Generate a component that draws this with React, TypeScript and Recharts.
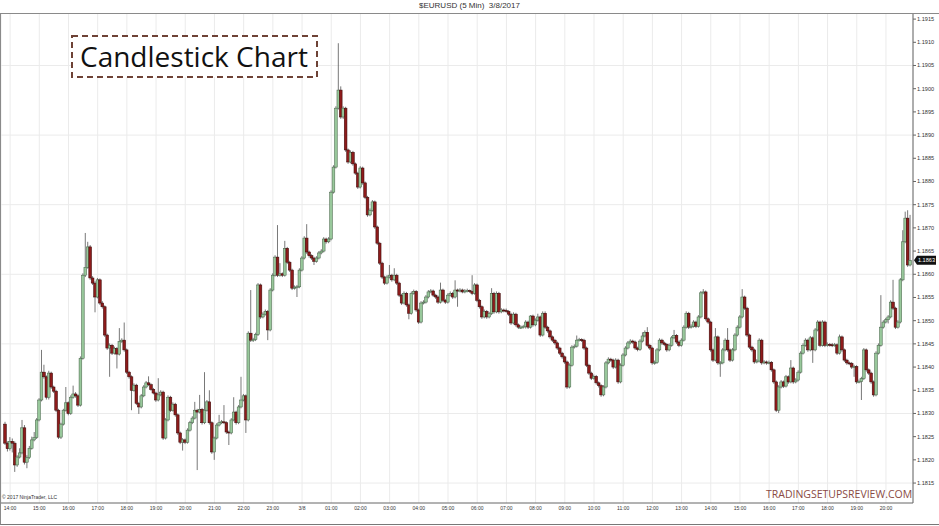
import React from 'react';
import { ComposedChart, Bar, XAxis, YAxis, CartesianGrid, ReferenceLine } from 'recharts';

// prices are kept in pips above 1.1800 (1 pip = 0.0001)
const BASE = 1.18;
const PIP = 0.0001;

const firstOpen = 27.7;

const closePips = [
  23.6, 22.4, 24.0, 23.6, 18.9, 20.6, 21.5, 26.9, 19.5, 20.5, 22.5, 24.3, 24.8, 28.6, 32.9, 38.9,
  37.9, 33.5, 38.7, 35.7, 34.8, 30.7, 24.9, 27.7, 30.7, 32.3, 30.0, 33.5, 34.2, 33.8, 31.8, 41.9,
  59.8, 61.5, 65.9, 59.2, 58.1, 55.1, 58.8, 53.8, 53.0, 46.9, 44.1, 44.7, 43.0, 44.0, 42.8, 45.5,
  45.8, 43.7, 38.9, 37.9, 35.0, 36.1, 32.2, 31.4, 33.8, 35.7, 36.6, 36.2, 35.2, 34.4, 32.9, 34.0,
  34.6, 24.7, 28.6, 33.5, 30.7, 32.0, 29.7, 25.8, 23.8, 24.3, 23.8, 26.4, 28.0, 29.0, 30.7, 30.3,
  30.9, 28.0, 30.7, 32.5, 28.0, 21.7, 24.7, 27.5, 28.0, 28.2, 28.0, 26.0, 25.8, 28.6, 30.3, 28.0,
  31.4, 32.9, 33.8, 28.6, 47.3, 45.8, 45.9, 47.0, 57.7, 50.8, 51.4, 52.0, 48.0, 56.6, 59.8, 63.7,
  59.8, 60.1, 59.8, 65.6, 62.6, 60.9, 57.0, 57.2, 57.3, 60.9, 63.5, 67.8,
  64.8, 64.0, 63.5, 62.8, 63.5, 64.6, 65.0, 67.6, 67.0, 67.6, 77.7, 83.1, 95.8, 99.7, 93.9, 95.8,
  86.8, 84.2, 86.3, 83.8, 81.8, 78.8, 82.9, 79.7, 76.6, 72.8, 73.8, 75.6, 70.2, 66.7, 62.4, 59.4,
  58.1, 59.4, 59.8, 58.8, 59.8, 58.1, 55.5, 53.8, 55.9, 53.4, 51.6, 55.9, 56.3, 52.3, 49.7, 53.8,
  54.0, 55.1, 56.2, 56.4, 55.5, 55.1, 54.0, 56.6, 54.4, 54.0, 55.5, 55.9, 55.1, 56.6, 56.4, 56.6,
  56.2, 56.4, 56.5, 56.3, 55.9, 57.7, 54.4, 53.0, 50.8, 52.0, 50.8, 51.5, 55.9, 51.9, 55.9, 51.9,
  52.3, 52.2, 52.0, 51.4, 49.5, 51.4, 49.1, 48.6, 48.6, 48.7, 49.7, 48.6, 51.0, 49.1, 50.1, 50.8,
  46.9, 51.6, 48.6, 47.8, 46.5, 45.8, 45.2, 44.1, 43.0, 42.2, 41.1, 35.7, 40.4, 44.3, 44.5, 45.8,
  45.9, 45.8, 44.1, 40.4, 38.7, 37.6, 38.0, 36.6, 36.0, 34.0, 35.7, 40.9, 41.7, 41.5, 40.0, 41.5,
  36.8, 40.4, 42.6, 44.1, 45.2, 45.6, 45.4, 44.1, 43.8, 45.6, 46.7, 47.5, 44.7, 44.1, 40.9, 41.0,
  43.7, 45.8, 45.2, 44.9, 43.7, 44.7, 46.3, 46.8, 45.4, 44.7, 45.8, 48.6, 51.6, 48.6, 48.8, 49.7,
  48.8, 50.8, 56.0, 56.2, 50.4, 49.7, 43.7, 41.5, 46.5, 40.9, 40.9, 43.7, 45.8, 43.7, 41.5, 43.7,
  46.9, 48.6, 50.8, 55.1, 52.7, 46.9, 44.3, 43.7, 41.1, 41.3, 45.8, 40.9, 41.1, 40.9, 41.0, 39.4,
  36.8, 30.7, 35.7, 36.8, 35.9, 37.9, 36.8, 39.8, 36.8, 37.2, 38.9, 43.0, 44.7, 45.8, 43.7, 46.3,
  43.7, 48.0, 49.7, 44.7, 49.7, 44.7, 44.9, 44.8, 44.7, 44.8, 43.0, 46.5, 43.7, 41.5, 40.9, 40.8,
  40.0, 40.1, 36.8, 36.9, 37.5, 43.7, 39.4, 38.7, 36.8, 34.0, 43.0, 44.7, 48.6, 49.7, 50.2, 50.8,
  54.0, 52.7, 48.6, 49.7, 58.8, 67.0, 72.1, 62.0, 63.0,
];

const highPips = [
  28.2, 24.0, 24.9, 24.6, 24.0, 21.0, 22.5, 28.6, 27.5, 21.0, 23.0, 25.0, 26.0, 29.0, 33.3, 43.7,
  40.5, 38.2, 39.2, 39.0, 36.0, 35.1, 31.0, 28.0, 31.0, 35.7, 32.6, 33.9, 36.0, 34.6, 34.1, 42.3,
  60.2, 68.9, 67.0, 66.3, 59.6, 58.5, 59.2, 59.1, 54.2, 53.3, 47.2, 45.1, 45.0, 44.4, 44.3, 48.4,
  46.2, 49.6, 44.0, 39.2, 38.2, 36.5, 36.4, 32.5, 34.2, 36.1, 37.0, 38.0, 36.5, 35.5, 34.7, 37.6,
  35.0, 34.9, 29.0, 33.9, 33.8, 32.4, 32.3, 30.0, 26.1, 24.7, 24.6, 26.8, 28.4, 29.4, 32.5, 31.0,
  34.0, 31.2, 38.9, 32.9, 35.0, 28.3, 25.0, 27.9, 29.7, 28.6, 31.8, 28.3, 26.3, 29.0, 33.5, 30.6,
  31.8, 37.9, 34.2, 34.1, 47.7, 56.6, 46.3, 47.4, 58.1, 58.0, 51.8, 52.4, 52.3, 57.0, 60.2, 64.1,
  70.6, 62.4, 60.4, 67.2, 65.9, 62.9, 61.2, 57.6, 57.7, 61.3, 63.9, 68.2,
  70.8, 65.1, 64.3, 63.8, 63.9, 65.0, 65.4, 68.0, 67.9, 68.0, 78.1, 83.5, 96.2, 109.8, 100.5, 96.2,
  96.1, 87.1, 86.7, 86.6, 84.1, 82.1, 83.3, 83.2, 80.0, 76.9, 74.2, 76.0, 75.9, 70.5, 67.0, 62.7,
  59.7, 59.8, 62.0, 60.1, 61.3, 60.1, 58.4, 55.8, 56.3, 56.2, 53.7, 56.3, 56.7, 56.6, 52.6, 54.2,
  54.4, 55.5, 56.6, 56.8, 56.7, 55.8, 55.4, 58.2, 56.9, 54.7, 55.9, 56.3, 56.2, 58.7, 56.9, 57.0,
  56.9, 56.8, 56.9, 56.7, 59.8, 58.1, 58.0, 54.7, 53.3, 52.4, 52.3, 51.9, 57.0, 56.2, 56.3, 56.2,
  52.7, 52.6, 52.6, 52.3, 51.7, 51.8, 51.7, 49.4, 49.0, 49.1, 50.1, 50.0, 51.2, 51.3, 50.5, 51.5,
  51.1, 52.0, 52.0, 48.9, 48.1, 46.8, 46.1, 45.5, 44.4, 43.3, 42.5, 41.4, 40.8, 44.7, 44.9, 46.8,
  46.3, 46.2, 46.1, 44.4, 40.7, 39.0, 38.4, 38.3, 36.9, 36.3, 36.1, 41.3, 42.1, 42.0, 41.8, 41.9,
  41.8, 40.8, 43.0, 44.5, 45.6, 46.0, 45.9, 45.7, 44.4, 46.0, 47.5, 47.9, 48.6, 45.0, 44.4, 41.4,
  44.1, 46.2, 46.1, 45.5, 45.2, 45.1, 46.7, 48.0, 47.1, 45.7, 46.2, 49.0, 52.0, 51.9, 49.2, 50.1,
  50.0, 51.2, 56.4, 56.8, 56.5, 50.7, 50.0, 44.0, 48.4, 46.8, 41.3, 44.1, 46.2, 48.4, 44.0, 44.1,
  47.3, 49.0, 51.2, 56.8, 55.4, 53.0, 47.2, 44.6, 44.0, 41.7, 46.2, 46.1, 41.5, 41.4, 41.4, 41.3,
  39.7, 37.1, 36.1, 37.2, 37.1, 38.3, 38.2, 41.5, 40.1, 37.6, 39.3, 43.4, 45.1, 46.2, 46.1, 46.7,
  46.6, 48.4, 50.1, 50.0, 50.1, 50.0, 45.3, 45.2, 45.2, 45.2, 45.1, 47.0, 46.8, 44.0, 41.8, 41.2,
  41.1, 40.5, 40.4, 37.3, 37.9, 44.1, 44.0, 39.7, 39.0, 37.1, 43.4, 45.1, 55.5, 50.1, 50.6, 51.2,
  54.4, 58.8, 53.0, 50.1, 59.2, 69.5, 73.5, 73.8, 72.8,
];

const lowPips = [
  23.2, 21.8, 22.0, 21.6, 17.4, 18.5, 20.3, 21.2, 19.0, 18.2, 20.2, 22.2, 24.0, 24.5, 28.3, 32.6,
  37.5, 33.0, 33.0, 35.3, 34.4, 30.3, 24.5, 24.5, 27.4, 30.4, 29.6, 29.7, 33.2, 33.4, 31.4, 31.5,
  41.6, 59.4, 61.2, 58.8, 57.7, 51.8, 54.8, 53.4, 52.6, 46.5, 43.7, 37.9, 42.6, 42.7, 39.7, 42.5,
  45.2, 43.3, 38.5, 37.5, 30.7, 34.7, 31.8, 29.9, 31.1, 33.5, 35.4, 35.9, 34.9, 34.1, 32.5, 32.6,
  33.7, 24.3, 24.4, 28.3, 30.3, 30.4, 29.3, 25.4, 23.4, 22.0, 23.4, 23.5, 26.1, 27.7, 28.7, 17.8,
  30.0, 27.6, 27.7, 30.4, 27.6, 21.3, 20.0, 24.4, 27.2, 27.7, 27.7, 25.6, 23.2, 25.5, 28.3, 27.6,
  27.7, 31.1, 32.6, 25.8, 28.3, 45.4, 45.4, 45.6, 46.7, 50.4, 50.5, 51.1, 45.8, 47.7, 56.3, 59.5,
  59.4, 59.5, 59.4, 59.5, 62.2, 60.5, 56.6, 56.7, 55.1, 57.0, 60.6, 63.2,
  64.4, 63.6, 63.1, 62.0, 62.5, 63.2, 64.3, 64.7, 66.6, 66.7, 67.3, 77.4, 82.8, 95.5, 93.5, 93.5,
  86.4, 83.8, 83.9, 83.4, 81.4, 78.4, 78.5, 79.3, 76.2, 72.4, 72.5, 73.5, 69.8, 66.3, 62.0, 59.0,
  57.7, 57.8, 59.1, 58.4, 58.5, 57.7, 55.1, 53.4, 53.5, 53.0, 50.3, 51.3, 55.6, 51.9, 49.3, 49.4,
  53.5, 53.7, 54.8, 55.9, 55.1, 54.7, 53.6, 53.7, 54.0, 53.6, 53.7, 55.2, 54.7, 54.8, 53.0, 56.1,
  55.9, 55.9, 56.1, 56.0, 55.5, 55.6, 54.0, 52.6, 50.4, 50.5, 50.4, 50.5, 51.2, 51.5, 51.6, 51.5,
  51.6, 51.8, 51.7, 51.0, 49.1, 49.2, 48.7, 48.2, 48.2, 48.3, 48.3, 48.2, 48.3, 48.7, 48.8, 49.8,
  46.5, 46.6, 48.2, 47.4, 46.1, 45.4, 44.8, 43.7, 42.6, 41.8, 40.7, 35.3, 35.4, 40.1, 44.0, 44.2,
  45.5, 45.4, 43.7, 40.0, 38.3, 37.2, 37.3, 36.2, 35.6, 33.6, 33.7, 35.4, 40.6, 41.1, 39.6, 39.7,
  36.4, 36.5, 40.1, 42.3, 43.8, 44.9, 45.0, 43.7, 43.4, 43.5, 45.3, 46.4, 44.3, 43.7, 40.5, 40.5,
  40.7, 43.4, 44.8, 44.5, 43.3, 43.4, 44.4, 46.0, 45.0, 44.3, 44.4, 45.5, 48.3, 48.2, 48.3, 48.5,
  48.4, 48.5, 50.5, 55.7, 50.0, 49.3, 43.3, 41.1, 41.2, 40.5, 37.9, 40.6, 43.4, 43.3, 41.1, 41.2,
  43.4, 46.6, 48.3, 50.5, 52.3, 46.5, 43.9, 43.3, 40.7, 40.8, 41.0, 40.5, 40.6, 40.5, 40.6, 39.0,
  36.4, 30.3, 30.1, 35.4, 35.5, 35.6, 36.4, 36.5, 36.4, 36.5, 36.9, 38.6, 42.7, 44.4, 43.3, 43.4,
  40.9, 43.4, 47.7, 44.3, 44.4, 44.3, 44.4, 44.4, 44.3, 44.4, 42.6, 42.7, 43.3, 41.1, 40.5, 40.4,
  39.6, 37.9, 36.4, 36.5, 32.9, 37.2, 39.0, 38.3, 36.4, 33.6, 33.7, 42.7, 44.4, 48.3, 49.4, 49.4,
  50.5, 52.3, 48.2, 48.3, 49.4, 58.5, 66.7, 61.6, 61.7,
];

// first bar is 13:50, one bar every 5 minutes
const firstHourIndex = 2;
const barsPerHour = 12;
const hourLabels = [
  '14:00', '15:00', '16:00', '17:00', '18:00', '19:00', '20:00', '21:00', '22:00', '23:00', '3/8',
  '01:00', '02:00', '03:00', '04:00', '05:00', '06:00', '07:00', '08:00', '09:00', '10:00',
  '11:00', '12:00', '13:00', '14:00', '15:00', '16:00', '17:00', '18:00', '19:00', '20:00',
];

const priceTicks = [
  1.1815, 1.182, 1.1825, 1.183, 1.1835, 1.184, 1.1845, 1.185, 1.1855, 1.186, 1.1865,
  1.187, 1.1875, 1.188, 1.1885, 1.189, 1.1895, 1.19, 1.1905, 1.191, 1.1915,
];
const gridPrices = [1.1815, 1.183, 1.1845, 1.186, 1.1875, 1.189, 1.1905];
const priceDomain = [1.18107, 1.19161];

const toPrice = (p: number) => +(BASE + p * PIP).toFixed(5);

const data = closePips.map((c, i) => {
  const o = i === 0 ? firstOpen : closePips[i - 1];
  const low = toPrice(lowPips[i]);
  const high = toPrice(highPips[i]);
  return { i, open: toPrice(o), close: toPrice(c), high, low, range: [low, high] };
});

const hourIdx = hourLabels.map((_, k) => firstHourIndex + k * barsPerHour);
const labelOf = (v: number) => hourLabels[(v - firstHourIndex) / barsPerHour] ?? '';
const lastClose = data[data.length - 1].close;

const Candle = (props: any) => {
  const { x, y, width, height, payload } = props;
  if (!payload) return null;
  const { open, close, high, low } = payload;
  const top = Math.min(y, y + height);
  const h = Math.abs(height);
  const ppx = high > low ? h / (high - low) : 0;
  const cx = x + width / 2;
  const up = close >= open;
  const bodyTop = top + (high - Math.max(open, close)) * ppx;
  const bodyH = Math.max(1, Math.abs(close - open) * ppx);
  return (
    <g>
      <line x1={cx} x2={cx} y1={top} y2={top + h} stroke="#555" strokeWidth={0.8} />
      <rect
        x={cx - 1.35}
        y={bodyTop}
        width={2.7}
        height={bodyH}
        fill={up ? '#98c89b' : '#8e1b1b'}
        stroke={up ? '#4a674c' : '#3b0808'}
        strokeWidth={0.55}
      />
    </g>
  );
};

// black price flag on the right axis, at the last close
const PriceTag = (props: any) => {
  const { x1, x2, y1 } = props;
  if (x1 == null || x2 == null || y1 == null) return null;
  const x = Math.max(x1, x2) + 1;
  return (
    <g>
      <polygon
        points={`${x},${y1} ${x + 3},${y1 - 4.5} ${x + 22},${y1 - 4.5} ${x + 22},${y1 + 4.5} ${x + 3},${y1 + 4.5}`}
        fill="#111"
      />
      <text x={x + 12.5} y={y1 + 2} fontSize={5.6} fill="#fff" textAnchor="middle" fontFamily="Liberation Sans, Arial">
        {lastClose.toFixed(4)}
      </text>
    </g>
  );
};

export default function App() {
  return (
    <div style={{ position: 'absolute', left: 0, top: 0, width: 939, height: 526, background: '#fff', fontFamily: 'Liberation Sans, Arial, sans-serif' }}>
      <ComposedChart
        width={939}
        height={526}
        data={data}
        margin={{ top: 14, right: 0, bottom: 0, left: 1 }}
        barCategoryGap={0}
        barGap={0}
      >
        <CartesianGrid stroke="#ebebeb" horizontalValues={gridPrices} />
        <XAxis
          dataKey="i"
          type="category"
          ticks={hourIdx}
          interval={0}
          tickFormatter={labelOf}
          padding={{ left: 3, right: 1.5 }}
          height={23}
          tickSize={2}
          tickMargin={1}
          tickLine={false}
          axisLine={{ stroke: '#666' }}
          tick={{ fontSize: 5, fill: '#333', fontFamily: 'Liberation Sans, Arial' }}
        />
        <YAxis
          orientation="right"
          type="number"
          domain={priceDomain}
          ticks={priceTicks}
          allowDataOverflow
          width={26}
          tickSize={3}
          tickMargin={1}
          axisLine={{ stroke: '#666' }}
          tickLine={{ stroke: '#666' }}
          tickFormatter={(v: number) => v.toFixed(4)}
          tick={{ fontSize: 5.6, fill: '#333', fontFamily: 'Liberation Sans, Arial', textAnchor: 'start' }}
        />
        <Bar dataKey="range" shape={<Candle />} isAnimationActive={false} />
        <ReferenceLine y={lastClose} stroke="none" shape={<PriceTag />} ifOverflow="visible" />
      </ComposedChart>

      {/* title and separator */}
      <div style={{ position: 'absolute', left: 0, top: 1, width: 939, textAlign: 'center', fontSize: 8, color: '#333', lineHeight: '10px' }}>
        $EURUSD (5 Min)&nbsp;&nbsp;3/8/2017
      </div>
      <div style={{ position: 'absolute', left: 0, top: 13, width: 939, height: 1, background: '#8a8a8a' }} />

      {/* frame */}
      <div style={{ position: 'absolute', left: 0, top: 13, width: 938, height: 511, borderLeft: '1px solid #8a8a8a', borderRight: '1px solid #8a8a8a', borderBottom: '1px solid #777', boxSizing: 'content-box' }} />

      {/* label box */}
      <svg style={{ position: 'absolute', left: 71, top: 35 }} width={248} height={44}>
        <rect x={1} y={1} width={245} height={41} fill="#fff" stroke="#6e4236" strokeWidth={2} strokeDasharray="6 4" />
      </svg>
      <div style={{ position: 'absolute', left: 80, top: 36, fontSize: 28, fontFamily: 'Open Sans', color: '#111', lineHeight: '40px' }}>
        Candlestick Chart
      </div>

      <div style={{ position: 'absolute', left: 2, top: 494, fontSize: 5, color: '#333', lineHeight: '7px' }}>
        © 2017 NinjaTrader, LLC
      </div>
      <div style={{ position: 'absolute', left: 766, top: 487, fontSize: 10.5, fontFamily: 'Open Sans', color: '#8a4a44', lineHeight: '15px' }}>
        TRADINGSETUPSREVIEW.COM
      </div>
    </div>
  );
}
